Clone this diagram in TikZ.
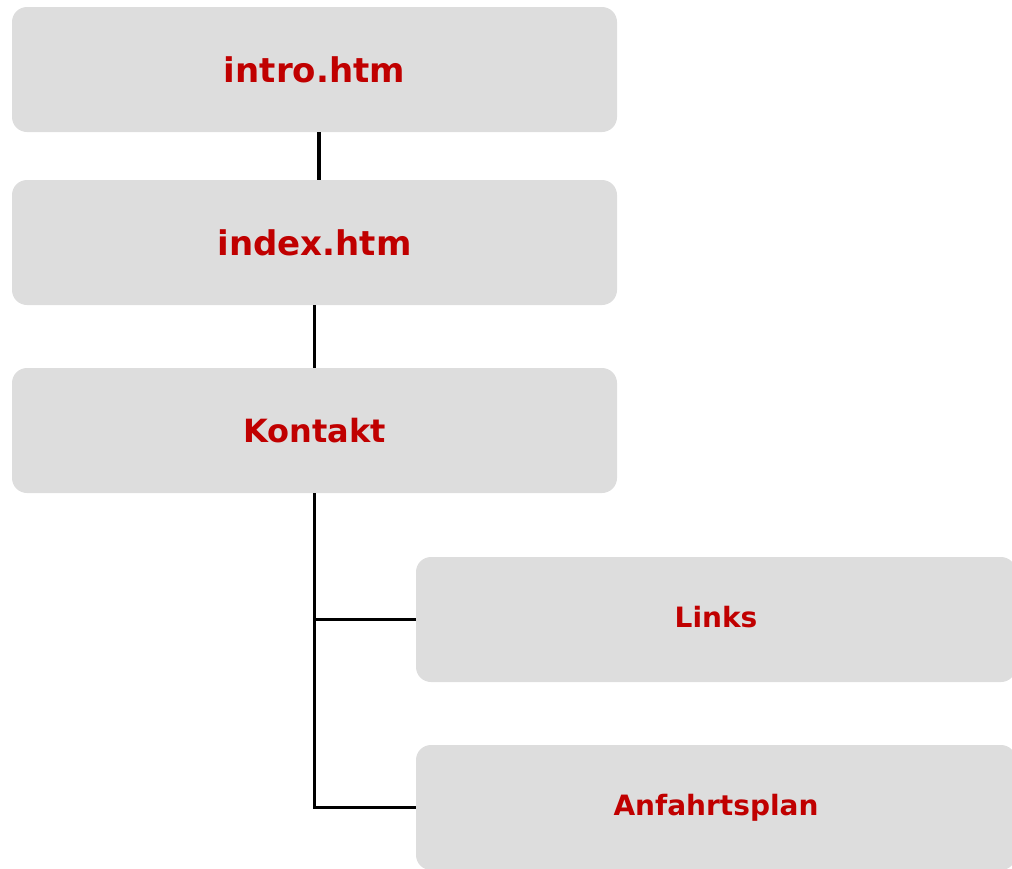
\documentclass[tikz,border=0pt]{standalone}
\usepackage{fontspec}
\setmainfont{DejaVu Sans}
\definecolor{boxgrey}{HTML}{DDDDDD}
\definecolor{labelred}{HTML}{C00000}
\begin{document}
\begin{tikzpicture}[x=1pt,y=-1pt,
  page/.style={fill=boxgrey, draw=none, rounded corners=15pt, inner sep=0pt,
    minimum width=605pt, minimum height=125pt, text=labelred, font=\bfseries},
  big/.style={font=\fontsize{34}{38}\selectfont\bfseries},
  small/.style={font=\fontsize{28}{32}\selectfont\bfseries},
  link/.style={line width=3.6pt, draw=black}]
\useasboundingbox (0,0) rectangle (1012,868);
\begin{scope}
\clip (0,0) rectangle (1012,868);
\node[page, big] (intro) at (314.5,69.5) {intro.htm};
\node[page, big] (index) at (314.5,242.5) {index.htm};
\node[page, font=\fontsize{32}{36}\selectfont\bfseries] (kontakt) at (314.5,430.5) {\raisebox{-2pt}{Kontakt}};
\node[page, small, minimum width=600pt] (links) at (716,619.5) {\raisebox{5pt}{Links}};
\node[page, small, minimum width=600pt] (anf) at (716,807.5) {\raisebox{4pt}{Anfahrtsplan}};
\draw[link] ([xshift=4.5pt]intro.south) -- ([xshift=4.5pt]index.north);
\draw[link] (index.south) -- (kontakt.north);
\draw[link] (kontakt.south) -- (kontakt.south |- anf.west) -- (anf.west);
\draw[link] (kontakt.south |- links.west) -- (links.west);
\end{scope}
\end{tikzpicture}
\end{document}
